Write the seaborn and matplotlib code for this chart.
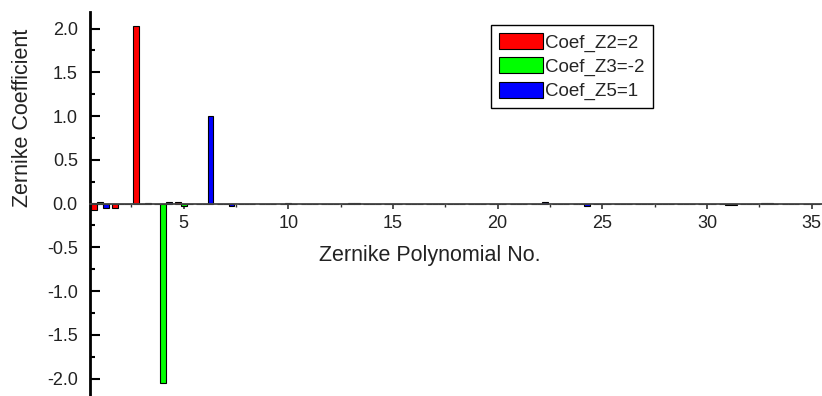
import numpy as np
import pandas as pd
import matplotlib
matplotlib.use("Agg")
import matplotlib.pyplot as plt
from matplotlib.ticker import MultipleLocator
import seaborn as sns

# Zernike polynomial numbers and coefficients for each fitted surface
poly_no = list(range(1, 36))
coef_z2 = [-0.07, -0.05, 2.03, 0.0, 0.02, -0.01, 0.0, -0.01, -0.01, 0.0,
           -0.01, -0.01, -0.01, -0.01, 0.0, 0.0, 0.0, -0.01, -0.01, -0.01,
           -0.01, 0.0, -0.01, -0.01, -0.01, -0.01, 0.0, 0.0, 0.0, 0.0,
           -0.01, -0.01, 0.01, -0.01, 0.0]
coef_z3 = [0.02, -0.005, 0.0, -2.05, -0.03, -0.01, 0.0, -0.01, -0.01, 0.01,
           -0.01, -0.01, 0.01, 0.0, -0.01, 0.0, 0.0, -0.01, -0.01, -0.01,
           -0.01, 0.0, -0.01, -0.01, 0.0, -0.01, 0.0, 0.0, -0.01, -0.01,
           -0.02, -0.01, 0.01, -0.01, 0.0]
coef_z5 = [-0.05, -0.01, 0.01, 0.02, -0.01, 1.0, -0.03, -0.01, -0.01, -0.01,
           -0.01, -0.01, 0.01, 0.0, -0.01, 0.0, -0.01, 0.0, -0.01, -0.01,
           -0.01, 0.02, -0.01, -0.03, -0.01, 0.0, 0.0, 0.0, 0.0, -0.01,
           -0.02, -0.01, -0.01, 0.0, 0.0]
series_names = ["Coef_Z2=2", "Coef_Z3=-2", "Coef_Z5=1"]
series_colors = ["#ff0000", "#00ff00", "#0000ff"]

df = pd.DataFrame({
    "n": poly_no * 3,
    "value": coef_z2 + coef_z3 + coef_z5,
    "series": np.repeat(series_names, len(poly_no)),
})

sns.set_style("ticks")
plt.rcParams["font.family"] = ["Liberation Sans", "DejaVu Sans"]

fig = plt.figure(figsize=(8.22, 3.96), dpi=100)
ax = fig.add_axes([0.109, 0.0, 0.891, 0.970])

sns.barplot(data=df, x="n", y="value", hue="series", native_scale=True,
            palette=series_colors, saturation=1, width=0.84,
            edgecolor="black", linewidth=0.8, ax=ax)

ax.set_xlim(0.5, 35.5)
ax.set_ylim(-2.2, 2.19)

# Origin-like axes: x axis through zero, only left spine
for side in ["top", "right"]:
    ax.spines[side].set_visible(False)
ax.spines["bottom"].set_position(("data", 0))
ax.spines["bottom"].set_color("#444444")
ax.spines["bottom"].set_linewidth(1.3)
ax.spines["left"].set_linewidth(2.0)
ax.spines["left"].set_color("black")

ax.xaxis.set_minor_locator(MultipleLocator(2.5))
ax.yaxis.set_minor_locator(MultipleLocator(0.25))
ax.set_yticks([-2.0, -1.5, -1.0, -0.5, 0.0, 0.5, 1.0, 1.5, 2.0])
ax.set_yticklabels([f"{v:.1f}" for v in ax.get_yticks()])
ax.set_xticks([5, 10, 15, 20, 25, 30, 35])

ax.tick_params(axis="y", which="major", direction="in", length=7, width=1.5,
               pad=8.5, labelsize=13, colors="black", labelcolor="#222222")
ax.tick_params(axis="y", which="minor", direction="in", length=3.5, width=1.5,
               colors="black")
ax.tick_params(axis="x", which="major", direction="out", length=3.6, width=1.2,
               pad=5, labelsize=13, colors="#333333", labelcolor="#222222")
ax.tick_params(axis="x", which="minor", direction="out", length=2.2, width=1.0,
               colors="#333333")

ax.set_xlabel("Zernike Polynomial No.", fontsize=15.5, color="#222222")
ax.set_ylabel("Zernike Coefficient", fontsize=15.5, color="#222222")
ax.xaxis.set_label_coords(0.465, 0.392)
ax.yaxis.set_label_coords(-0.077, 0.724)

handles, labels = ax.get_legend_handles_labels()
ax.legend(handles, labels, loc="upper left",
          bbox_to_anchor=(0.597, 0.937), bbox_transform=fig.transFigure,
          borderaxespad=0, fontsize=13.5, handlelength=2.35, handleheight=0.95,
          handletextpad=0.15, labelspacing=0.3, borderpad=0.42,
          fancybox=False, framealpha=1, edgecolor="black", title=None)
ax.get_legend().get_frame().set_linewidth(1.0)

fig.savefig("out.png", dpi=100)
